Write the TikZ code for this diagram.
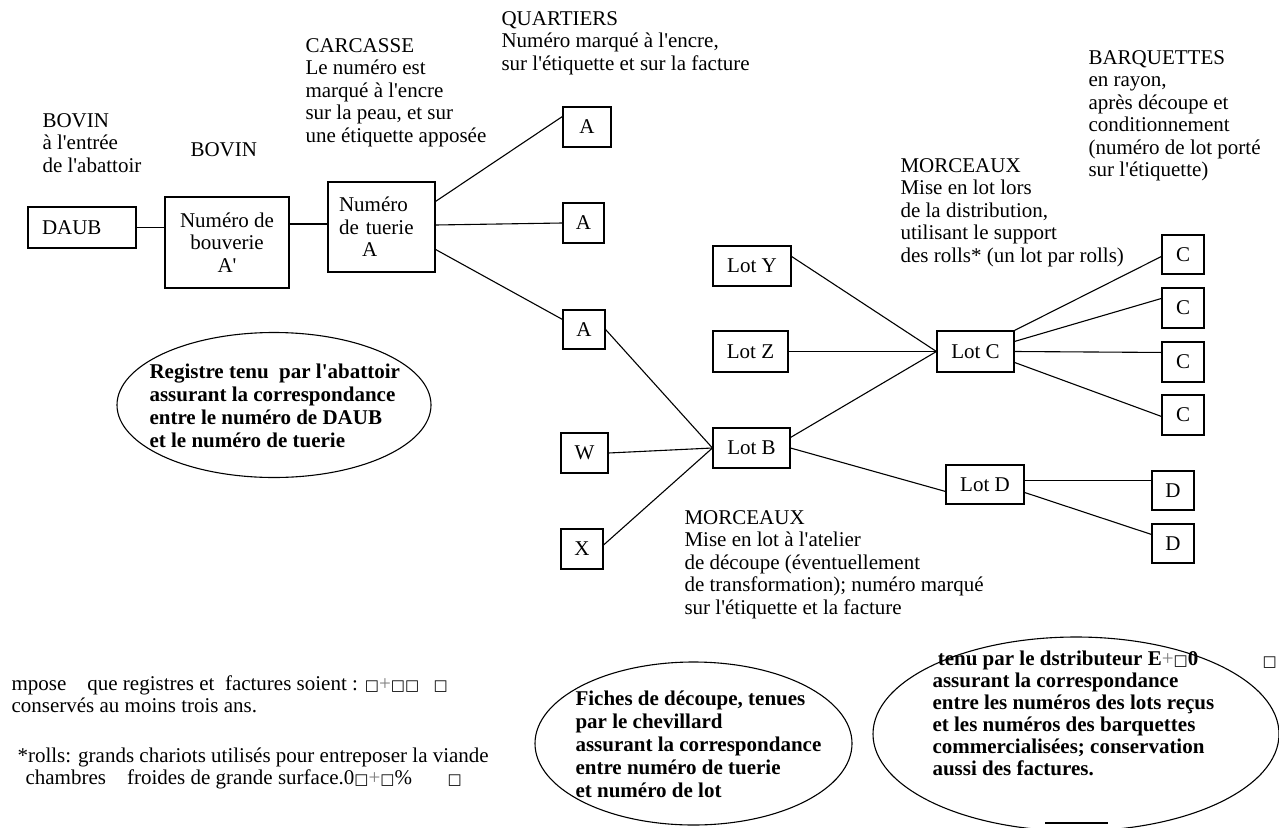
\documentclass[tikz,border=0pt]{standalone}
\usepackage{fontspec}
\setmainfont{Liberation Serif}
\newfontfamily\symf{DejaVu Sans}
\usetikzlibrary{shapes.geometric}
\newcommand{\fs}{\fontsize{21}{22.5}\selectfont}
\newcommand{\fb}{\fontsize{21}{23}\selectfont\bfseries}
\newcommand{\sq}{{\symf\fontsize{15}{15}\selectfont □}}
\newcommand{\q}{\textquotesingle}
\begin{document}
\begin{tikzpicture}[x=1pt,y=-1pt, line width=1.1pt,
  box/.style={draw, inner sep=0, font=\fs, align=center},
  txt/.style={anchor=north west, inner sep=0, align=left, font=\fs},
  btxt/.style={anchor=north west, inner sep=0, align=left, font=\fb},
  oval/.style={draw, ellipse, inner sep=0}]
\useasboundingbox (0,0) rectangle (1279,827);
\clip (0,0) rectangle (1279,827);

% boxes
\node[box, text width=80, inner xsep=14, align=left, minimum height=41] (daub) at (82,227.5) {DAUB};
\node[box, minimum width=124, minimum height=91] (bouv) at (227,242.5) {Numéro de\\bouverie\\A\q};
\node[box, text width=85, inner xsep=11, align=left, minimum height=90] (tuer) at (381.5,227) {Numéro\\de tuerie\\\hspace*{23pt}A};
\node[box, minimum width=48, minimum height=40] (a1) at (587,127) {A};
\node[box, minimum width=41, minimum height=40] (a2) at (583.5,223) {A};
\node[box, minimum width=42, minimum height=39] (a3) at (584,329.5) {A};
\node[box, minimum width=47, minimum height=40] (w) at (584.5,453) {W};
\node[box, minimum width=42, minimum height=40] (x) at (582,549) {X};
\node[box, minimum width=78, minimum height=40] (loty) at (752,266) {Lot Y};
\node[box, minimum width=75, minimum height=41] (lotz) at (750.5,351.5) {Lot Z};
\node[box, minimum width=77, minimum height=40] (lotb) at (751.5,448) {Lot B};
\node[box, minimum width=77, minimum height=41] (lotc) at (975.5,351.5) {Lot C};
\node[box, minimum width=78, minimum height=39] (lotd) at (985,484.5) {Lot D};
\node[box, minimum width=42, minimum height=39] (c1) at (1183,254.5) {C};
\node[box, minimum width=42, minimum height=40] (c2) at (1183,308) {C};
\node[box, minimum width=42, minimum height=40] (c3) at (1183,362) {C};
\node[box, minimum width=42, minimum height=40] (c4) at (1183,415) {C};
\node[box, minimum width=42, minimum height=39] (d1) at (1173,490.5) {D};
\node[box, minimum width=42, minimum height=39] (d2) at (1173,543.5) {D};

% connectors
\draw (daub.east) -- (daub.east -| bouv.west);
\draw ([yshift=3pt]bouv.east |- tuer.west) -- ([yshift=3pt]tuer.west);
\draw ([yshift=-20pt]tuer.north east) -- ([yshift=-10pt]a1.north west);
\draw ([yshift=2pt]tuer.east) -- (a2.west);
\draw ([yshift=-68pt]tuer.north east) -- ([yshift=-10pt]a3.north west);
\draw (a3.east) -- (lotb.west);
\draw (w.east) -- (lotb.west);
\draw ([yshift=4pt]x.east) -- (lotb.west);
\draw ([yshift=-10pt]lotb.north east) -- (lotc.west);
\draw (lotb.east) -- ([yshift=-27pt]lotd.north west);
\draw ([yshift=-11pt]loty.north east) -- (lotc.west);
\draw (lotz.east) -- (lotc.west);
\draw (lotc.north east) -- ([yshift=-22pt]c1.north west);
\draw ([yshift=-11pt]lotc.north east) -- ([yshift=-11pt]c2.north west);
\draw (lotc.east) -- ([yshift=-11pt]c3.north west);
\draw ([yshift=-32pt]lotc.north east) -- ([yshift=-22pt]c4.north west);
\draw ([yshift=-16pt]lotd.north east) -- ([yshift=-10pt]d1.north west);
\draw ([yshift=-28pt]lotd.north east) -- ([yshift=-11pt]d2.north west);

% ellipses
\node[oval, minimum width=314, minimum height=145] (reg) at (274,405) {};
\node[oval, minimum width=317, minimum height=163] (fich) at (693.5,743.5) {};
\node[oval, minimum width=406, minimum height=194] (dist) at (1076,734) {};
\coordinate (segl) at (1045,823);
\coordinate (segr) at (1108,823);
\draw (segl) -- (segr);

% labels
\node[txt] (tbov1) at (42,111) {\strut BOVIN\\à l\q entrée\\de l\q abattoir};
\node[txt] (tbov2) at (190,140) {\strut BOVIN};
\node[txt] (tcarc) at (305,36) {\strut CARCASSE\\Le numéro est\\marqué à l\q encre\\sur la peau, et sur\\une étiquette apposée};
\node[txt] (tquar) at (501,9) {\strut QUARTIERS\\Numéro marqué à l\q encre,\\sur l\q étiquette et sur la facture};
\node[txt] (tbarq) at (1088,48) {\strut BARQUETTES\\en rayon,\\après découpe et\\conditionnement\\(numéro de lot porté\\sur l\q étiquette)};
\node[txt] (tmorc1) at (900,156) {\strut MORCEAUX\\Mise en lot lors\\de la distribution,\\utilisant le support\\des rolls* (un lot par rolls)};
\node[txt] (tmorc2) at (684,508) {\strut MORCEAUX\\Mise en lot à l\q atelier\\de découpe (éventuellement\\de transformation); numéro marqué\\sur l\q étiquette et la facture};
\node[btxt] (treg) at (149,362) {\strut Registre tenu\ \ par l\q abattoir\\assurant la correspondance\\entre le numéro de DAUB\\et le numéro de tuerie};
\node[btxt] (tfich) at (575,689) {\strut Fiches de découpe, tenues\\par le chevillard\\assurant la correspondance\\entre numéro de tuerie\\et numéro de lot};
\node[btxt, font=\fontsize{21}{22}\selectfont\bfseries] (tdist) at (932,650) {\strut\ tenu par le dstributeur E{\mdseries\color{gray}+}\sq0\\assurant la correspondance\\entre les numéros des lots reçus\\et les numéros des barquettes\\commercialisées; conservation\\aussi des factures.};
\node[txt] (tsqd) at (1262,650) {\strut\sq};
\node[txt] (tmpose) at (11,674) {\strut mpose\quad que registres et\ \ factures soient : \sq{\color{gray}+}\sq\sq\\conservés au moins trois ans.};
\node[txt] (tsq1) at (433,674) {\strut\sq};
\node[txt] (troll) at (17,746) {\strut *rolls: grands chariots utilisés pour entreposer la viande\\\hspace*{8pt}chambres\quad froides de grande surface.0\sq{\color{gray}+}\sq\%};
\node[txt] (tsq2) at (447,768) {\strut\sq};
\end{tikzpicture}
\end{document}
